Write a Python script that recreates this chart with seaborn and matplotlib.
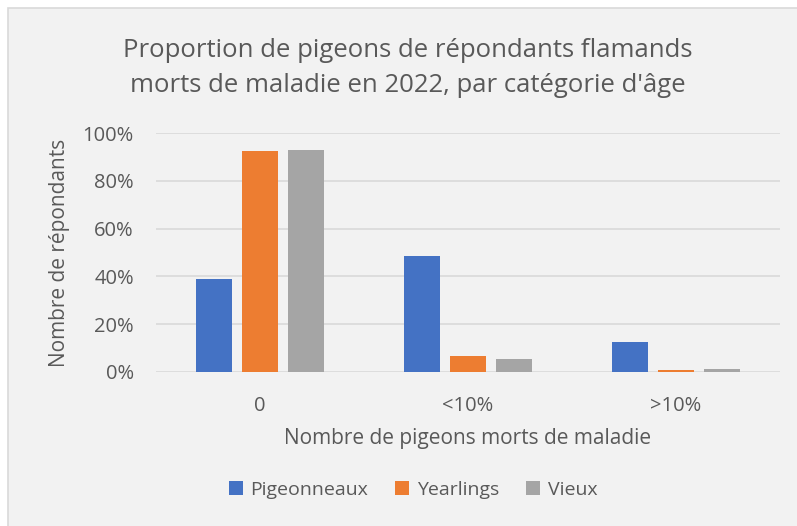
import numpy as np
import pandas as pd
import matplotlib.pyplot as plt
import seaborn as sns
from matplotlib.patches import Rectangle
from matplotlib.ticker import PercentFormatter

# values (fractions)
categories = ["0", "<10%", ">10%"]
series_names = ["Pigeonneaux", "Yearlings", "Vieux"]
pigeonneaux = [0.389, 0.484, 0.126]
yearlings = [0.923, 0.066, 0.007]
vieux = [0.927, 0.055, 0.011]
colors = ["#4472C4", "#ED7D31", "#A5A5A5"]

df = pd.DataFrame({
    "categorie": categories * 3,
    "serie": np.repeat(series_names, len(categories)),
    "valeur": pigeonneaux + yearlings + vieux,
})

sns.set_style("white")
plt.rcParams["font.family"] = ["Open Sans", "DejaVu Sans"]
text_col = "#595959"
bg = "#F2F2F2"

fig = plt.figure(figsize=(7.97, 5.26), dpi=100, facecolor="white")
# chart box, slightly inset at top/left like the screenshot
fig.patches.append(Rectangle((8 / 797, -0.01), 1.0, (526 - 8) / 526 + 0.01,
                             transform=fig.transFigure, facecolor=bg,
                             edgecolor="#D9D9D9", linewidth=1.2, zorder=0))

ax = fig.add_axes([0.1957, 0.2928, 0.7830, 0.4543])
ax.set_zorder(1)
ax.set_facecolor(bg)

sns.barplot(data=df, x="categorie", y="valeur", hue="serie",
            order=categories, hue_order=series_names, palette=colors,
            width=0.663, gap=0.22, saturation=1, errorbar=None, ax=ax,
            edgecolor="none")

ax.set_xlim(-0.5, 2.5)
ax.set_ylim(0, 1.0)
ax.set_yticks(np.arange(0, 1.01, 0.2))
ax.yaxis.set_major_formatter(PercentFormatter(1.0, decimals=0))
ax.grid(axis="y", color="#D9D9D9", linewidth=1.2)
ax.set_axisbelow(True)
for s in ax.spines.values():
    s.set_visible(False)
ax.tick_params(axis="both", length=0, labelsize=14.5, colors=text_col)
ax.tick_params(axis="y", pad=16)
ax.tick_params(axis="x", pad=17)

ax.set_xlabel("Nombre de pigeons morts de maladie", fontsize=15, color=text_col, labelpad=9)
ax.set_ylabel("Nombre de répondants", fontsize=15, color=text_col, labelpad=9)

fig.text(0.512, 0.871, "Proportion de pigeons de répondants flamands\nmorts de maladie en 2022, par catégorie d'âge",
         ha="center", va="center", fontsize=18.5, color=text_col, linespacing=1.52)

ax.legend(loc="center", bbox_to_anchor=(0.412, -0.494), ncol=3, frameon=False,
          fontsize=14, labelcolor=text_col, handlelength=0.7, handleheight=0.7,
          handletextpad=0.4, columnspacing=1.4)

fig.savefig("out.png", dpi=100, facecolor="white")
